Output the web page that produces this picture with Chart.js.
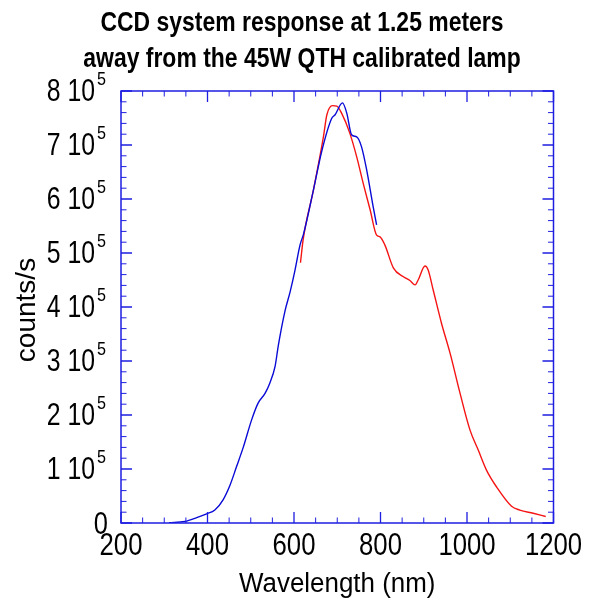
<!DOCTYPE html>
<html>
<head>
<meta charset="utf-8">
<script src="https://cdn.jsdelivr.net/npm/chart.js@4.4.1/dist/chart.umd.min.js"></script>
<style>
  html, body { margin: 0; padding: 0; background: #ffffff; }
  #wrap { width: 604px; height: 605px; }
</style>
</head>
<body>
<div id="wrap"><canvas id="c" width="604" height="605"></canvas></div>
<script>
// ---- data (wavelength in nm, response in counts/s) ----
const titleLines = ["CCD system response at 1.25 meters", "away from the 45W QTH calibrated lamp"];
const xAxisTitle = "Wavelength (nm)";
const yAxisTitle = "counts/s";
const xTickValues = [200, 400, 600, 800, 1000, 1200];
const yTickValues = [0, 100000, 200000, 300000, 400000, 500000, 600000, 700000, 800000];

const blueWavelength = [311, 348, 375, 398, 417, 436, 452, 467, 483, 502, 517, 533, 544, 556, 564, 579, 591, 602, 614, 622, 645, 664, 687, 695, 712, 722, 733, 745, 756, 768, 783, 791];
const blueCounts = [500, 3000, 10000, 17000, 24000, 43000, 70000, 104000, 141000, 191000, 222000, 240000, 259000, 289000, 330000, 392000, 428000, 467000, 515000, 535000, 617000, 688000, 749000, 756000, 778000, 759000, 719000, 715000, 697000, 654000, 586000, 552000];

const redWavelength = [615, 621, 645, 668, 676, 689, 699, 710, 729, 745, 760, 776, 791, 799, 810, 830, 853, 868, 880, 887, 903, 910, 922, 941, 961, 984, 1007, 1026, 1045, 1069, 1103, 1122, 1153, 1182];
const redCounts = [482000, 524000, 617000, 715000, 756000, 773000, 772000, 759000, 722000, 678000, 629000, 580000, 533000, 530000, 515000, 472000, 456000, 449000, 441000, 450000, 476000, 469000, 431000, 370000, 314000, 240000, 172000, 135000, 98000, 66000, 31000, 24000, 18000, 12000];

const toXY = (xs, ys) => xs.map((x, i) => ({ x: x, y: ys[i] }));

const AXIS_COLOR = 'rgb(30,30,225)';
const FONT = "'Liberation Sans', Arial, Helvetica, sans-serif";

function squeezedText(ctx, text, x, y, sx, align) {
  ctx.save();
  ctx.translate(x, y);
  ctx.scale(sx, 1);
  ctx.textAlign = align;
  ctx.fillText(text, 0, 0);
  ctx.restore();
}

const framePlugin = {
  id: 'framePlugin',
  afterDraw(chart) {
    const ctx = chart.ctx;
    const a = chart.chartArea;
    const xs = chart.scales.x, ys = chart.scales.y;
    ctx.save();
    ctx.strokeStyle = AXIS_COLOR;
    ctx.lineWidth = 1.5;
    ctx.strokeRect(a.left, a.top, a.right - a.left, a.bottom - a.top);
    // x ticks (bottom & top), minor every 50
    for (let v = xs.min; v <= xs.max + 0.01; v += 50) {
      const px = xs.getPixelForValue(v);
      const major = Math.abs(v % 200) < 0.01;
      const len = major ? 11 : 5.5;
      ctx.lineWidth = major ? 1.3 : 1;
      ctx.beginPath();
      ctx.moveTo(px, a.bottom); ctx.lineTo(px, a.bottom - len);
      ctx.moveTo(px, a.top); ctx.lineTo(px, a.top + len);
      ctx.stroke();
    }
    // y ticks (left & right), minor every 20000
    for (let v = ys.min; v <= ys.max + 1; v += 20000) {
      const py = ys.getPixelForValue(v);
      const major = Math.abs(v % 100000) < 1;
      const len = major ? 11 : 5.5;
      ctx.lineWidth = major ? 1.3 : 1;
      ctx.beginPath();
      ctx.moveTo(a.left, py); ctx.lineTo(a.left + len, py);
      ctx.moveTo(a.right, py); ctx.lineTo(a.right - len, py);
      ctx.stroke();
    }
    ctx.fillStyle = '#000';
    ctx.textBaseline = 'alphabetic';

    // title
    ctx.font = "bold 27px " + FONT;
    const cx = chart.width / 2;
    squeezedText(ctx, titleLines[0], cx, 31, 0.85, 'center');
    squeezedText(ctx, titleLines[1], cx, 67, 0.85, 'center');

    // y tick labels "n 10^5"
    yTickValues.forEach(v => {
      const py = ys.getPixelForValue(v);
      if (v === 0) {
        ctx.font = "31px " + FONT;
        squeezedText(ctx, '0', a.left - 13, py + 10.5, 0.82, 'right');
      } else {
        const n = String(v / 100000);
        ctx.font = "31px " + FONT;
        squeezedText(ctx, n + ' 10', a.left - 26, py + 9.5, 0.8, 'right');
        ctx.font = "19px " + FONT;
        squeezedText(ctx, '5', a.left - 24, py - 6.5, 0.85, 'left');
      }
    });

    // x tick labels
    ctx.font = "31px " + FONT;
    xTickValues.forEach(v => {
      const px = xs.getPixelForValue(v);
      squeezedText(ctx, String(v), px, a.bottom + 32, 0.83, 'center');
    });

    // axis titles
    ctx.font = "27px " + FONT;
    squeezedText(ctx, xAxisTitle, (a.left + a.right) / 2, 591.5, 0.96, 'center');
    ctx.save();
    ctx.translate(35, (a.top + a.bottom) / 2 + 3);
    ctx.rotate(-Math.PI / 2);
    ctx.font = "28px " + FONT;
    ctx.textAlign = 'center';
    ctx.fillText(yAxisTitle, 0, 0);
    ctx.restore();

    ctx.restore();
  }
};

new Chart(document.getElementById('c'), {
  type: 'scatter',
  data: {
    datasets: [
      {
        label: 'blue',
        data: toXY(blueWavelength, blueCounts),
        showLine: true,
        borderColor: 'rgb(10,10,215)',
        borderWidth: 1.4,
        pointRadius: 0,
        cubicInterpolationMode: 'monotone',
        fill: false
      },
      {
        label: 'red',
        data: toXY(redWavelength, redCounts),
        showLine: true,
        borderColor: 'rgb(245,20,20)',
        borderWidth: 1.4,
        pointRadius: 0,
        cubicInterpolationMode: 'monotone',
        fill: false
      }
    ]
  },
  options: {
    responsive: false,
    animation: false,
    devicePixelRatio: 1,
    layout: { padding: { top: 91, right: 50.5, bottom: 0, left: 0 } },
    plugins: {
      legend: { display: false },
      tooltip: { enabled: false },
      title: { display: false, text: titleLines }
    },
    scales: {
      x: {
        type: 'linear',
        min: 200,
        max: 1200,
        afterFit(scale) { scale.height = 82; },
        grid: { display: false },
        border: { display: false },
        ticks: { display: false },
        title: { display: false, text: xAxisTitle }
      },
      y: {
        type: 'linear',
        min: 0,
        max: 800000,
        afterFit(scale) { scale.width = 121; },
        grid: { display: false },
        border: { display: false },
        ticks: { display: false },
        title: { display: false, text: yAxisTitle }
      }
    }
  },
  plugins: [framePlugin]
});
</script>
</body>
</html>
